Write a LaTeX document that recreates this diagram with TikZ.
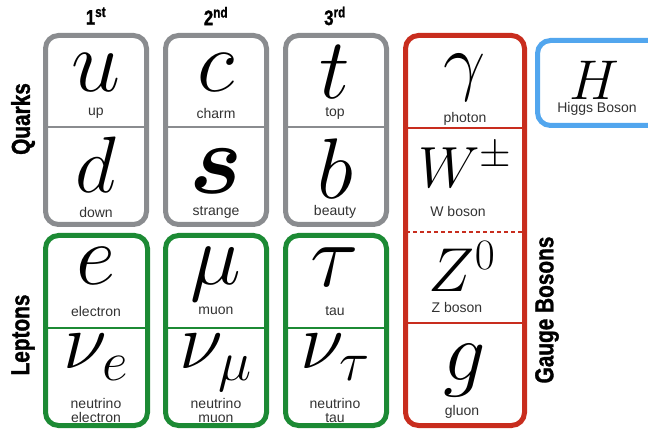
\RequirePackage{fix-cm}
\documentclass[tikz,border=0pt]{standalone}
\usepackage{amsmath,bm}
\usepackage{fontspec}
\newfontfamily\lblfont{Liberation Sans}
\newfontfamily\headfont{Liberation Sans}[FakeStretch=0.8, FakeBold=1.2]
\usepackage{tikz}
\definecolor{quarkgray}{RGB}{138,140,143}
\definecolor{leptongreen}{RGB}{28,138,52}
\definecolor{bosonred}{RGB}{200,45,30}
\definecolor{higgsblue}{RGB}{82,166,238}
\definecolor{labelgray}{RGB}{50,50,50}
\newcommand{\sym}[2]{{\fontsize{#1}{#1}\selectfont$#2$}}

\tikzset{
  panel/.style={line width=5pt, rounded corners=13pt},
  split/.style={line width=1.4pt},
  particle/.style={anchor=base, inner sep=0pt},
  pname/.style={font=\lblfont\fontsize{14}{16}\selectfont, text=labelgray, inner sep=0pt, align=center},
  heading/.style={font=\headfont\bfseries\fontsize{26}{26}\selectfont, inner sep=0pt},
  genhead/.style={font=\headfont\bfseries\fontsize{21}{21}\selectfont, inner sep=0pt},
}

\begin{document}
\begin{tikzpicture}[x=1pt,y=-1pt]
\useasboundingbox (0,0) rectangle (648,430);
\clip (0,0) rectangle (648,430);

% generation headings
\node[genhead] (gen1) at (96,16) {1\textsuperscript{st}};
\node[genhead] (gen2) at (216,16) {2\textsuperscript{nd}};
\node[genhead] (gen3) at (335,16) {3\textsuperscript{rd}};

% group labels
\node[heading, rotate=90] (quarks) at (23,119) {Quarks};
\node[heading, rotate=90] (leptons) at (23,335) {Leptons};
\node[heading, rotate=90] (gauge) at (547,310) {Gauge Bosons};

% quarks
\foreach \xl/\xr in {45.5/146.5, 165.5/266.5, 285.5/386.5} {
  \draw[quarkgray, panel] (\xl,35.5) rectangle (\xr,224.5);
  \draw[quarkgray, split] (\xl,127) -- (\xr,127);
}
\node[particle] (up) at (96,92) {\sym{88}{u}};
\node[pname] (upname) at (96,113) {up};
\node[particle] (down) at (96,193) {\sym{80}{d}};
\node[pname] (downname) at (96,212) {down};
\node[particle] (charm) at (216,92) {\sym{88}{c}};
\node[pname] (charmname) at (216,113) {charm};
\node[particle] (strange) at (216,194) {\sym{100}{\bm{s}}};
\node[pname] (strangename) at (216,212) {strange};
\node[particle] (top) at (335,99) {\sym{86}{t}};
\node[pname] (topname) at (335,113) {top};
\node[particle] (bottom) at (335,199) {\sym{86}{b}};
\node[pname] (bottomname) at (335,212) {beauty};

% leptons
\foreach \xl/\xr in {45.5/147.5, 165.5/266.5, 285.5/386.5} {
  \draw[leptongreen, panel] (\xl,235.5) rectangle (\xr,425.5);
  \draw[leptongreen, split] (\xl,328) -- (\xr,328);
}
\node[particle] (electron) at (96,285) {\sym{86}{e}};
\node[pname] (electronname) at (96,311) {electron};
\node[particle] (nue) at (96,368) {\sym{80}{\nu_e}};
\node[pname] (nuename) at (96,410) {neutrino\\[-2pt]electron};
\node[particle] (muon) at (216,285) {\sym{86}{\mu}};
\node[pname] (muonname) at (216,311) {muon};
\node[particle] (numu) at (216,368) {\sym{80}{\nu_\mu}};
\node[pname] (numuname) at (216,410) {neutrino\\[-2pt]muon};
\node[particle] (tau) at (335,287) {\sym{90}{\tau}};
\node[pname] (tauname) at (335,311) {tau};
\node[particle] (nutau) at (335,368) {\sym{80}{\nu_\tau}};
\node[pname] (nutauname) at (335,410) {neutrino\\[-2pt]tau};

% gauge bosons
\draw[bosonred, panel] (405.5,35.5) rectangle (524.5,425.5);
\draw[bosonred, split] (406,128) -- (524,128);
\draw[bosonred, split, dash pattern=on 4pt off 3pt] (406,232) -- (524,232);
\draw[bosonred, split] (406,323) -- (524,323);
\node[particle] (photon) at (465,87) {\sym{75}{\gamma}};
\node[pname] (photonname) at (465,119) {photon};
\node[particle] (wboson) at (465,188) {\sym{58}{W^{\pm}}};
\node[pname] (wbosonname) at (458,211) {W boson};
\node[particle] (zboson) at (462,292) {\sym{62}{Z^{0}}};
\node[pname] (zbosonname) at (457,307) {Z boson};
\node[particle] (gluon) at (465,380) {\sym{84}{g}};
\node[pname] (gluonname) at (462,412) {gluon};

% higgs
\draw[higgsblue, panel] (537.5,40.5) rectangle (670,125.5);
\node[particle] (higgs) at (594,100) {\sym{56}{H}};
\node[pname] (higgsname) at (597,109) {Higgs Boson};
\end{tikzpicture}
\end{document}
